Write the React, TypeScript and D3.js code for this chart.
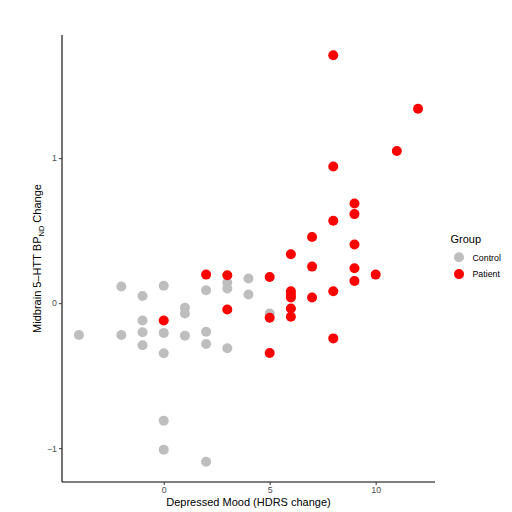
import * as d3 from 'd3';
import { useEffect, useRef } from 'react';

// Control group: HDRS change (x) vs BPND change (y)
const controlX = [-4, -2, -2, -1, -1, -1, -1, 0, 0, 0, 0, 0, 1, 1, 1, 2, 2, 2, 2, 3, 3, 3, 4, 4, 5];
const controlY = [-0.22, 0.115, -0.22, 0.05, -0.12, -0.2, -0.29, 0.12, -0.205, -0.345, -0.81, -1.01,
    -0.032, -0.071, -0.224, 0.089, -0.197, -0.282, -1.093, 0.142, 0.101, -0.311, 0.17, 0.06, -0.071];

// Patient group
const patientX = [0, 2, 3, 3, 5, 5, 5, 6, 6, 6, 6, 6, 6, 7, 7, 7, 8, 8, 8, 8, 8, 9, 9, 9, 9, 9, 10, 11, 12];
const patientY = [-0.119, 0.197, 0.192, -0.044, 0.181, -0.101, -0.344, 0.337, 0.082, 0.06, 0.039, -0.037,
    -0.094, 0.456, 0.252, 0.039, 1.709, 0.942, 0.568, 0.082, -0.243, 0.687, 0.614, 0.405, 0.241, 0.153,
    0.197, 1.049, 1.34];

const groups = ['Control', 'Patient'];
const groupColors = ['#bebebe', '#ff0000'];
const xTicks = [0, 5, 10];
const yTicks = [-1, 0, 1];

const App = () => {
    const svgRef = useRef<SVGSVGElement>(null);

    useEffect(() => {
        const svg = d3.select(svgRef.current);
        svg.selectAll('*').remove();

        const font = '"Liberation Sans", Arial, Helvetica, sans-serif';
        const margin = { top: 35, right: 77, bottom: 30, left: 62 };
        const width = 512, height = 512;

        const allX = controlX.concat(patientX);
        const allY = controlY.concat(patientY);
        const [x0, x1] = d3.extent(allX) as [number, number];
        const [y0, y1] = d3.extent(allY) as [number, number];
        const ex = (x1 - x0) * 0.05, ey = (y1 - y0) * 0.05;

        const xScale = d3.scaleLinear()
            .domain([x0 - ex, x1 + ex])
            .range([margin.left, width - margin.right]);
        const yScale = d3.scaleLinear()
            .domain([y0 - ey, y1 + ey])
            .range([height - margin.bottom, margin.top]);

        const pts = [
            ...controlX.map((x, i) => ({ x, y: controlY[i], g: 0 })),
            ...patientX.map((x, i) => ({ x, y: patientY[i], g: 1 })),
        ];

        svg.append('g')
            .selectAll('circle')
            .data(pts)
            .enter()
            .append('circle')
            .attr('cx', (d) => xScale(d.x))
            .attr('cy', (d) => yScale(d.y))
            .attr('r', 5)
            .attr('fill', (d) => groupColors[d.g]);

        const fmt = (v: number) => (v < 0 ? '\u2212' + Math.abs(v) : String(v));

        // Axes
        const xAxis = d3.axisBottom(xScale).tickValues(xTicks).tickSize(3).tickPadding(2).tickFormat((d) => fmt(+d));
        const yAxis = d3.axisLeft(yScale).tickValues(yTicks).tickSize(3).tickPadding(2).tickFormat((d) => fmt(+d));

        const gx = svg.append('g').attr('transform', `translate(0,${height - margin.bottom})`).call(xAxis);
        const gy = svg.append('g').attr('transform', `translate(${margin.left},0)`).call(yAxis);
        [gx, gy].forEach((g) => {
            g.select('.domain').attr('stroke', '#000').attr('stroke-width', 1.1);
            g.selectAll('.tick line').attr('stroke', '#333');
            g.selectAll('.tick text').attr('fill', '#4d4d4d').style('font-size', '8.8px').style('font-family', font);
        });
        gx.select('.domain').attr('d', `M${margin.left},0H${width - margin.right}`);
        gy.select('.domain').attr('d', `M0,${margin.top}V${height - margin.bottom}`);

        // Axis titles
        svg.append('text')
            .attr('x', (margin.left + width - margin.right) / 2)
            .attr('y', 506)
            .attr('text-anchor', 'middle')
            .style('font-family', font)
            .style('font-size', '11px')
            .text('Depressed Mood (HDRS change)');

        const yt = svg.append('text')
            .attr('transform', `translate(41,${(margin.top + height - margin.bottom) / 2}) rotate(-90)`)
            .attr('text-anchor', 'middle')
            .style('font-family', font)
            .style('font-size', '11px');
        yt.append('tspan').text('Midbrain 5\u2013HTT  BP');
        yt.append('tspan').attr('dy', 2.5).style('font-size', '7.5px').text('ND');
        yt.append('tspan').attr('dy', -2.5).text(' Change');

        // Legend
        const lg = svg.append('g');
        lg.append('text')
            .attr('x', 450.5)
            .attr('y', 243)
            .style('font-family', font)
            .style('font-size', '11px')
            .text('Group');
        groups.forEach((name, i) => {
            const cy = 257.3 + i * 16.8;
            lg.append('circle').attr('cx', 459).attr('cy', cy).attr('r', 5).attr('fill', groupColors[i]);
            lg.append('text')
                .attr('x', 472.5)
                .attr('y', cy + 3.2)
                .style('font-family', font)
                .style('font-size', '8.8px')
                .text(name);
        });
    }, []);

    return (
        <svg ref={svgRef} width={512} height={512}
            style={{ position: 'absolute', left: 0, top: 0, background: '#fff' }}></svg>
    );
};

export default App;
